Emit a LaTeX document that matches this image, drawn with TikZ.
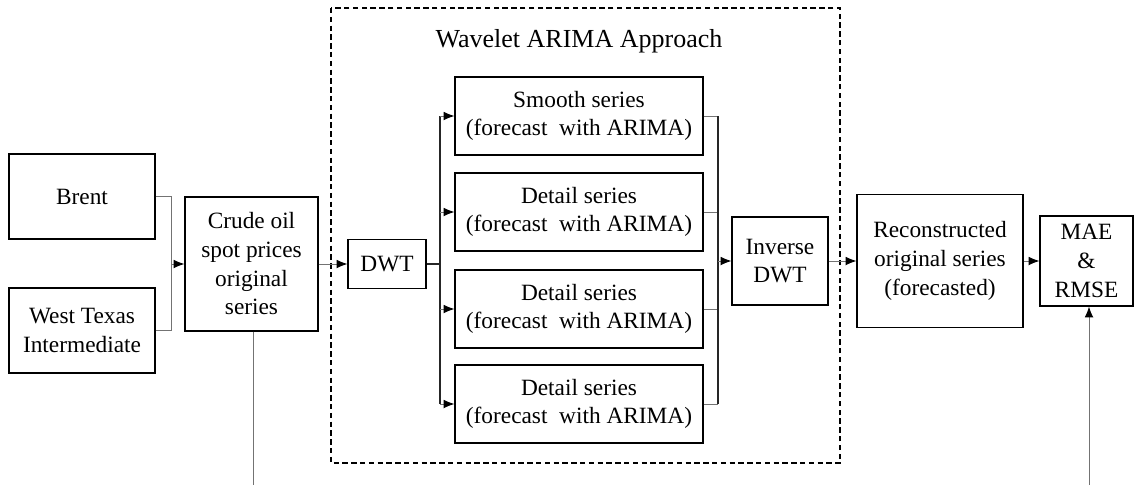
\documentclass[tikz,border=0pt]{standalone}
\usepackage{fontspec}
\setmainfont{Liberation Serif}
\usetikzlibrary{arrows.meta}
\tikzset{
  box/.style 2 args={draw=black, line width=0.9pt, inner sep=0pt, align=center,
    minimum width=#1*0.75pt, minimum height=#2*0.75pt,
    font=\fontsize{17.5}{21.5}\selectfont},
  link/.style={draw=black!55, line width=0.7pt},
  bus/.style={draw=black!85, line width=0.8pt},
  arrowlink/.style={link, -{Latex[length=8pt, width=6.5pt, black]}},
}
\begin{document}
\begin{tikzpicture}[x=0.75pt, y=-0.75pt]
\useasboundingbox (0,0) rectangle (1134,485);

% outer frame of the wavelet stage
\draw[line width=0.9pt, dash pattern=on 4pt off 2.6pt] (331,8) rectangle (840,463);
\node[anchor=base, font=\fontsize{19.5}{23}\selectfont] (title) at (579,48) {Wavelet ARIMA Approach};

% inputs
\node[box={146}{85}]  (brent) at (82,196.5) {Brent};
\node[box={146}{85}]  (wti)   at (82,330.5) {West Texas\\Intermediate};
\node[box={133}{134}] (crude) at (251.5,264) {Crude oil\\spot prices\\original\\series};
\node[box={78}{49}]   (dwt)   at (387,264) {DWT};

% wavelet components
\node[box={248}{78}] (s1) at (579,116) {Smooth series\\(forecast\ \ with ARIMA)};
\node[box={248}{78}] (s2) at (579,212) {Detail series\\(forecast\ \ with ARIMA)};
\node[box={248}{78}] (s3) at (579,309) {Detail series\\(forecast\ \ with ARIMA)};
\node[box={248}{78}] (s4) at (579,404) {Detail series\\(forecast\ \ with ARIMA)};

\node[box={96}{88}]   (inv)  at (780,261) {Inverse\\DWT};
\node[box={166}{133}] (reco) at (940,261) {Reconstructed\\original series\\(forecasted)};
\node[box={93}{90}]   (mae)  at (1086.5,261) {MAE\\\&\\RMSE};

% junction points
\coordinate (jin) at (171,264);
\coordinate (split) at (440,264);
\coordinate (merge) at (718,261);
\coordinate (botA) at (253,485);
\coordinate (botB) at (1089,485);

% inputs into the crude oil series
\draw[link] (brent.east) -| (jin);
\draw[link] (wti.east) -| (jin);
\draw[arrowlink] (jin) -- (crude.west);
\draw[arrowlink] (crude.east) -- (dwt.west);

% decomposition
\draw[bus] (dwt.east) -- (split);
\draw[bus] (s1.west -| split) -- (s4.west -| split);
\foreach \s in {s1,s2,s3,s4}
  \draw[arrowlink] (\s.west -| split) -- (\s.west);

% reconstruction
\foreach \s in {s1,s2,s3,s4}
  \draw[link] (\s.east) -- (\s.east -| merge);
\draw[bus] (s1.east -| merge) -- (s4.east -| merge);
\draw[arrowlink] (merge) -- (inv.west);
\draw[arrowlink] (inv.east) -- (reco.west);
\draw[arrowlink] (reco.east) -- (mae.west);

% lines leaving the bottom edge
\draw[link] (crude.south -| botA) -- (botA);
\draw[arrowlink] (botB) -- (mae.south -| botB);
\end{tikzpicture}
\end{document}
